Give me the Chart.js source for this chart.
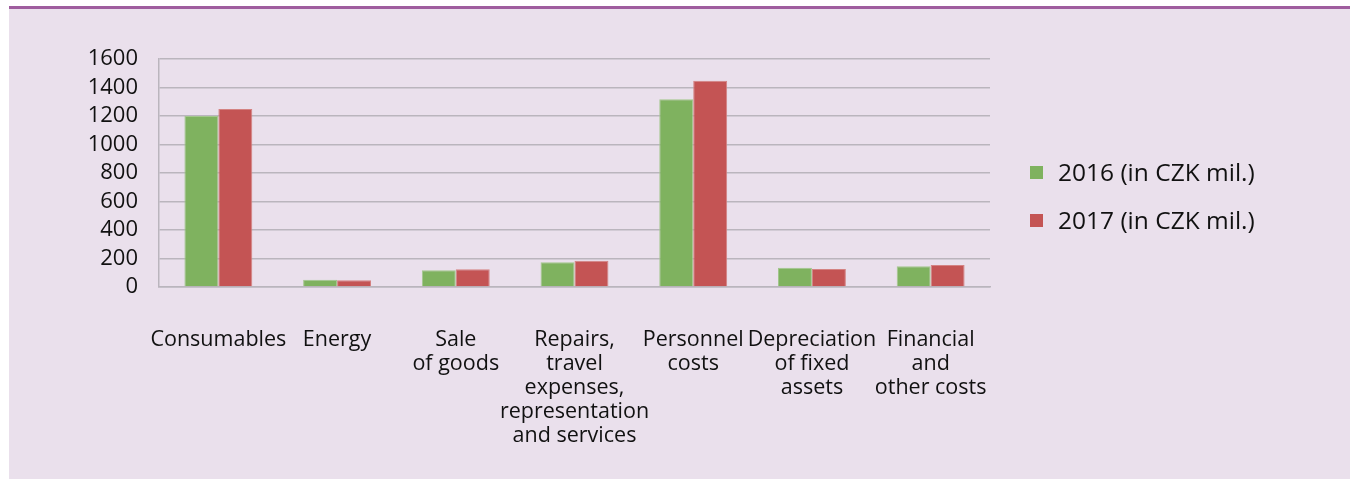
<!DOCTYPE html>
<html>
<head>
<meta charset="utf-8">
<script src="https://cdn.jsdelivr.net/npm/chart.js@4.4.1/dist/chart.umd.min.js"></script>
<style>
  html, body { margin: 0; padding: 0; background: #fff; }
  #frame {
    position: absolute; left: 9px; top: 6px;
    width: 1341px; height: 473px;
    box-sizing: border-box;
    border-top: 3px solid #9f5d9e;
    background: #eae0ec;
  }
  #wrap { position: relative; width: 1341px; height: 470px; }
  .legend-item {
    position: absolute; left: 1021px; height: 26px;
    display: flex; align-items: center;
    font: 24.5px "Open Sans", "DejaVu Sans", sans-serif;
    line-height: 26px; color: #111; white-space: nowrap;
  }
  .legend-item span.box { width: 13px; height: 13px; margin-right: 15px; }
</style>
</head>
<body>
<div id="frame">
  <div id="wrap"><canvas id="chart"></canvas></div>
  <div id="legend"></div>
</div>
<script>
// cost categories (multi-line labels)
const categories = [
  ['Consumables'],
  ['Energy'],
  ['Sale', 'of goods'],
  ['Repairs,', 'travel', 'expenses,', 'representation', 'and services'],
  ['Personnel', 'costs'],
  ['Depreciation', 'of fixed', 'assets'],
  ['Financial', 'and', 'other costs']
];

const costs2016 = [1200, 51, 117, 173, 1317, 135, 145];
const costs2017 = [1249, 47, 124, 185, 1447, 126, 154];

const seriesNames = ['2016 (in CZK mil.)', '2017 (in CZK mil.)'];
const seriesColors = ['#7fb25f', '#c45454'];
const edgeColors = ['#a3c68d', '#d48282'];

const yMin = 0, yMax = 1600, yStep = 200;

const gridColor = '#bab5bd';
const font = '"Open Sans", "DejaVu Sans", sans-serif';

const ctx = document.getElementById('chart').getContext('2d');

new Chart(ctx, {
  type: 'bar',
  data: {
    labels: categories,
    datasets: [
      { label: seriesNames[0], data: costs2016, backgroundColor: seriesColors[0], borderColor: edgeColors[0], borderWidth: 1 },
      { label: seriesNames[1], data: costs2017, backgroundColor: seriesColors[1], borderColor: edgeColors[1], borderWidth: 1 }
    ]
  },
  options: {
    responsive: true,
    maintainAspectRatio: false,
    animation: false,
    datasets: { bar: { categoryPercentage: 0.572, barPercentage: 1.0 } },
    layout: { padding: { left: 50, top: 50, right: 360, bottom: 22 } },
    plugins: {
      tooltip: { enabled: false },
      legend: { display: false }
    },
    scales: {
      x: {
        grid: { display: false },
        border: { display: true, color: gridColor, width: 1.5 },
        ticks: {
          padding: 33,
          maxRotation: 0,
          autoSkip: false,
          color: '#111',
          font: { family: font, size: 21.5, lineHeight: 1.12 }
        },
        afterFit(scale) { scale.height = 170; }
      },
      y: {
        min: yMin,
        max: yMax,
        grid: { color: gridColor, lineWidth: 1.5, drawTicks: false },
        border: { display: true, color: gridColor, width: 1.5 },
        ticks: {
          stepSize: yStep,
          autoSkip: false,
          padding: 21,
          color: '#111',
          font: { family: font, size: 22 },
          callback: (v) => String(v)
        },
        afterFit(scale) { scale.width = 100; }
      }
    }
  }
});

// legend drawn as html next to the plot
const legend = document.getElementById('legend');
seriesNames.forEach((name, i) => {
  const item = document.createElement('div');
  item.className = 'legend-item';
  item.style.top = (150 + i * 48) + 'px';
  const box = document.createElement('span');
  box.className = 'box';
  box.style.background = seriesColors[i];
  item.appendChild(box);
  item.appendChild(document.createTextNode(name));
  legend.appendChild(item);
});
</script>
</body>
</html>
